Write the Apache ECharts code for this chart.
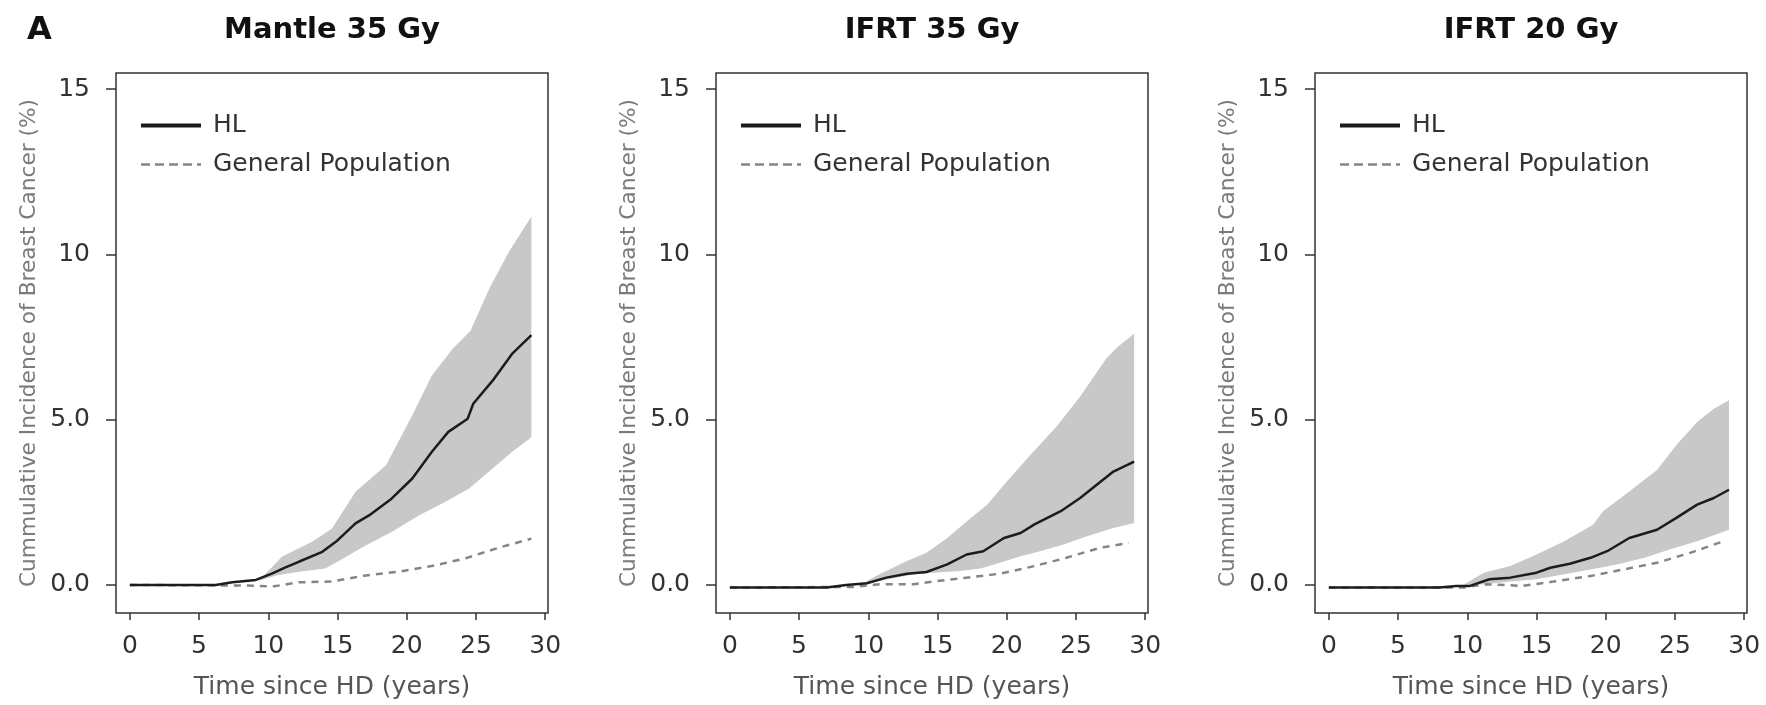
<!DOCTYPE html>
<html>
<head>
<meta charset="utf-8">
<title>Cumulative incidence of breast cancer after HL radiotherapy</title>
<script src="https://cdn.jsdelivr.net/npm/echarts@6/dist/echarts.min.js"></script>
<style>
  html, body { margin: 0; padding: 0; background: #ffffff; }
  #chart { width: 1766px; height: 705px; }
</style>
</head>
<body>
<div id="chart"></div>
<script>
// ---- axis ticks and titles ----
const xTicks = [0, 5, 10, 15, 20, 25, 30];
const yTicks = [0, 5, 10, 15];
const yTickLabels = ['0.0', '5.0', '10', '15'];
const panelTitles = ['Mantle 35 Gy', 'IFRT 35 Gy', 'IFRT 20 Gy'];
const seriesNames = ['HL', 'General Population'];

// ---- Mantle 35 Gy: [years, cumulative incidence %] ----
const mantleHL = [[0, 0], [6.2, 0], [7.4, 0.08], [9.1, 0.15], [10.3, 0.35], [11.2, 0.52], [12.2, 0.70], [13.9, 1.0],
  [14.9, 1.31], [16.3, 1.86], [17.3, 2.11], [18.9, 2.61], [20.4, 3.22], [21.8, 4.02], [23.0, 4.63], [24.4, 5.03],
  [24.8, 5.48], [26.2, 6.18], [27.6, 6.99], [29.0, 7.56]];
const mantleUpper = [[9.3, 0.12], [11.0, 0.86], [13.2, 1.31], [14.6, 1.71], [16.3, 2.82], [18.5, 3.62], [20.4, 5.13],
  [21.8, 6.33], [23.3, 7.14], [24.6, 7.69], [26.0, 9.0], [27.4, 10.1], [29.0, 11.15]];
const mantleLower = [[9.3, 0.12], [10.5, 0.28], [12.2, 0.40], [14.1, 0.5], [15.0, 0.70], [16.9, 1.16], [18.9, 1.6],
  [20.9, 2.11], [22.8, 2.52], [24.5, 2.92], [26.2, 3.52], [27.6, 4.02], [29.0, 4.47]];
const mantleGP = [[0, 0], [8.4, -0.02], [10.3, -0.05], [12.2, 0.08], [14.6, 0.1], [16.9, 0.28], [19.4, 0.40],
  [21.8, 0.57], [24.2, 0.80], [26.6, 1.12], [29.0, 1.40]];

// ---- IFRT 35 Gy ----
const ifrt35HL = [[0, -0.08], [7.0, -0.08], [8.4, 0.0], [9.9, 0.05], [11.3, 0.22], [12.8, 0.34], [14.2, 0.39],
  [15.7, 0.62], [17.1, 0.92], [18.3, 1.02], [19.8, 1.42], [21.0, 1.57], [22.0, 1.83], [23.9, 2.23], [25.3, 2.63],
  [26.5, 3.03], [27.7, 3.43], [29.2, 3.73]];
const ifrt35Upper = [[9.4, 0.0], [10.8, 0.32], [12.8, 0.72], [14.2, 0.97], [15.7, 1.42], [17.1, 1.92], [18.6, 2.43],
  [19.8, 3.03], [21.7, 3.93], [23.6, 4.79], [25.3, 5.70], [27.2, 6.86], [28.0, 7.2], [29.2, 7.6]];
const ifrt35Lower = [[9.4, 0.0], [10.8, 0.12], [13.3, 0.32], [14.7, 0.37], [16.6, 0.42], [18.1, 0.5], [19.5, 0.67],
  [21.0, 0.87], [22.4, 1.02], [24.1, 1.22], [25.8, 1.47], [27.7, 1.72], [29.2, 1.87]];
const ifrt35GP = [[0, -0.08], [8.9, -0.06], [10.8, 0.02], [13.3, 0.02], [14.7, 0.1], [17.1, 0.22], [19.5, 0.34],
  [22.0, 0.57], [24.3, 0.82], [26.7, 1.12], [28.8, 1.27]];

// ---- IFRT 20 Gy ----
const ifrt20HL = [[0, -0.08], [8.0, -0.08], [9.2, -0.03], [10.2, -0.03], [11.6, 0.17], [13.1, 0.22], [15.0, 0.37],
  [16.0, 0.52], [17.4, 0.64], [18.9, 0.82], [20.1, 1.02], [21.7, 1.42], [23.7, 1.67], [25.1, 2.03], [26.6, 2.43],
  [27.8, 2.63], [28.9, 2.88]];
const ifrt20Upper = [[9.7, 0.0], [11.2, 0.37], [13.1, 0.57], [15.0, 0.92], [17.0, 1.32], [19.1, 1.83], [19.8, 2.23],
  [21.7, 2.83], [23.7, 3.48], [25.1, 4.23], [26.6, 4.93], [27.8, 5.33], [28.9, 5.59]];
const ifrt20Lower = [[9.7, 0.0], [11.2, 0.02], [13.1, 0.1], [15.0, 0.17], [17.0, 0.32], [18.9, 0.47], [20.8, 0.62],
  [22.8, 0.82], [24.6, 1.07], [26.6, 1.32], [28.9, 1.67]];
const ifrt20GP = [[0, -0.08], [9.7, -0.08], [11.4, 0.02], [14.0, -0.03], [16.2, 0.1], [18.9, 0.27], [21.3, 0.47],
  [23.7, 0.67], [26.1, 0.97], [28.5, 1.32]];

const panels = [
  { hl: mantleHL, upper: mantleUpper, lower: mantleLower, gp: mantleGP },
  { hl: ifrt35HL, upper: ifrt35Upper, lower: ifrt35Lower, gp: ifrt35GP },
  { hl: ifrt20HL, upper: ifrt20Upper, lower: ifrt20Lower, gp: ifrt20GP }
];

// ---- layout and style ----
const FONT = "'DejaVu Sans', 'Open Sans', sans-serif";
const gridLefts = [116, 716, 1315];
const gridTop = 73;
const gridWidth = 432;
const gridHeight = 542;
const bandColor = '#c8c8c8';
const hlColor = '#1c1c1c';
const gpColor = '#858585';
const frameColor = '#333333';

// Confidence band: polygon along the upper bound, back along the lower bound
function bandRenderer(upper, lower) {
  return function (params, api) {
    if (params.dataIndex !== 0) return null;
    const pts = upper.map(p => api.coord(p))
      .concat(lower.slice().reverse().map(p => api.coord(p)));
    return {
      type: 'polygon',
      shape: { points: pts },
      style: { fill: bandColor, stroke: null }
    };
  };
}

const grid = [], xAxis = [], yAxis = [], series = [], legend = [], title = [];

title.push({
  text: 'A', left: 27, top: 15, padding: 0,
  textStyle: { fontFamily: FONT, fontSize: 32, fontWeight: 'bold', color: '#111' }
});

panels.forEach((p, i) => {
  const left = gridLefts[i];
  grid.push({
    left: left, top: gridTop, width: gridWidth, height: gridHeight,
    show: true, borderColor: frameColor, borderWidth: 1.5, backgroundColor: 'transparent'
  });
  title.push({
    text: panelTitles[i], left: left + gridWidth / 2, top: 16, padding: 0, textAlign: 'center',
    textStyle: { fontFamily: FONT, fontSize: 29, fontWeight: 'bold', color: '#111' }
  });
  xAxis.push({
    type: 'value', gridIndex: i, min: -1, max: 30.2,
    axisLine: { show: false, onZero: false },
    axisTick: { show: true, inside: false, length: 7, customValues: xTicks,
      lineStyle: { color: frameColor, width: 1.5 } },
    axisLabel: { customValues: xTicks, margin: 21, fontFamily: FONT, fontSize: 25, color: '#333' },
    splitLine: { show: false },
    name: 'Time since HD (years)', nameLocation: 'middle', nameGap: 62,
    nameTextStyle: { fontFamily: FONT, fontSize: 25, color: '#555' }
  });
  yAxis.push({
    type: 'value', gridIndex: i, min: -0.85, max: 15.49,
    axisLine: { show: false, onZero: false },
    axisTick: { show: true, inside: false, length: 10, customValues: yTicks,
      lineStyle: { color: frameColor, width: 1.5 } },
    axisLabel: {
      customValues: yTicks, margin: 26, fontFamily: FONT, fontSize: 25, color: '#333',
      formatter: v => yTickLabels[yTicks.indexOf(v)]
    },
    splitLine: { show: false },
    name: 'Cummulative Incidence of Breast Cancer (%)', nameLocation: 'middle', nameRotate: 90, nameGap: 76,
    nameTextStyle: { fontFamily: FONT, fontSize: 21.7, color: '#7a7a7a' }
  });
  series.push({
    type: 'custom', name: 'band' + i, xAxisIndex: i, yAxisIndex: i,
    renderItem: bandRenderer(p.upper, p.lower),
    data: p.upper.concat(p.lower), encode: { x: 0, y: 1 }, z: 1, silent: true
  });
  series.push({
    type: 'line', name: seriesNames[1], xAxisIndex: i, yAxisIndex: i, data: p.gp,
    symbol: 'none', smooth: false, z: 2, silent: true,
    lineStyle: { color: gpColor, width: 2.5, type: [7, 6] }, itemStyle: { color: gpColor }
  });
  series.push({
    type: 'line', name: seriesNames[0], xAxisIndex: i, yAxisIndex: i, data: p.hl,
    symbol: 'none', smooth: false, z: 3, silent: true,
    lineStyle: { color: hlColor, width: 2.5, type: 'solid' }, itemStyle: { color: hlColor }
  });
  legend.push({
    orient: 'vertical', left: left + 23, top: 113, padding: 0, itemGap: 14,
    itemWidth: 60, itemHeight: 24, selectedMode: false,
    itemStyle: { opacity: 0, borderWidth: 0 },
    data: [
      { name: seriesNames[0], lineStyle: { width: 4, color: hlColor } },
      { name: seriesNames[1], lineStyle: { width: 2.5, color: gpColor, type: [9, 5] } }
    ],
    textStyle: { fontFamily: FONT, fontSize: 25, color: '#333', lineHeight: 24, padding: [0, 0, 0, 7] }
  });
});

const chart = echarts.init(document.getElementById('chart'), null, { renderer: 'canvas' });
chart.setOption({
  animation: false,
  backgroundColor: '#ffffff',
  title: title,
  grid: grid,
  xAxis: xAxis,
  yAxis: yAxis,
  legend: legend,
  series: series
});
</script>
</body>
</html>
